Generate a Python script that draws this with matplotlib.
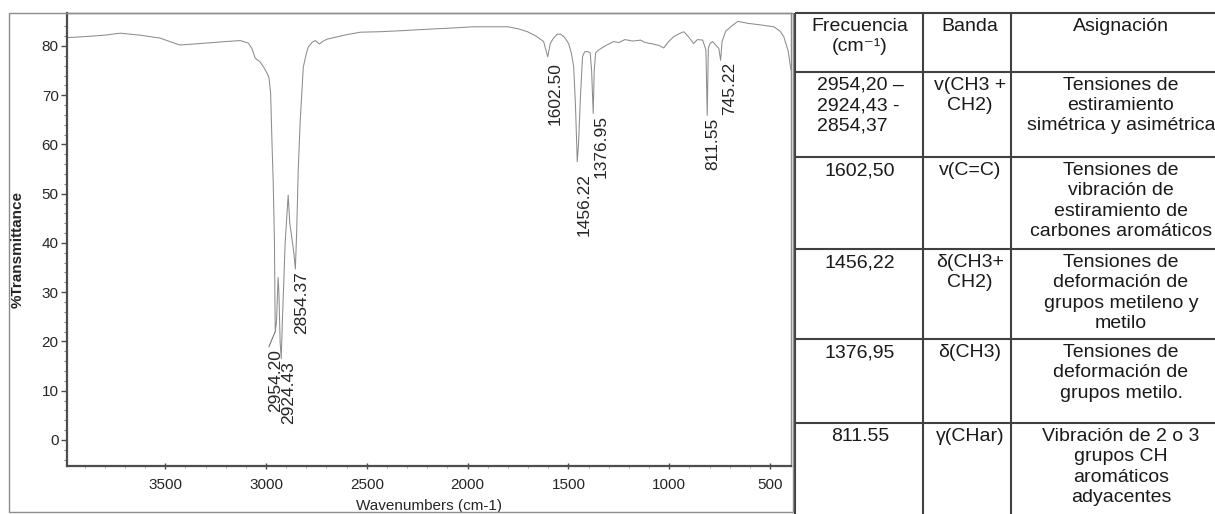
import numpy as np
import matplotlib
matplotlib.use("Agg")
import matplotlib.pyplot as plt
from matplotlib.patches import Rectangle

# IR spectrum trace: wavenumber (cm-1) and %T
WN = [3988, 3900, 3800, 3723, 3624, 3525, 3470, 3426, 3326, 3200, 3128, 3088,
      3070, 3053, 3030, 3013, 2995, 2985, 2977, 2970, 2964, 2958, 2956, 2954.2,
      2948, 2940, 2936, 2930, 2924.4, 2918, 2905, 2890, 2882, 2875, 2862, 2854.4,
      2848, 2840, 2830, 2815, 2800, 2790, 2770, 2755, 2735, 2720, 2696, 2600,
      2532, 2433, 2333, 2200, 2100, 1971, 1802, 1750, 1703, 1660, 1623, 1602.5,
      1590, 1574, 1555, 1539, 1520, 1499, 1485, 1474, 1465, 1456.2, 1450, 1440,
      1430, 1420, 1405, 1392, 1385, 1377, 1372, 1365, 1350, 1310, 1276, 1250,
      1220, 1180, 1142, 1120, 1080, 1050, 1027, 1005, 978, 950, 928, 905, 879,
      860, 834, 818, 811.5, 806, 798, 785, 770, 754, 745.2, 738, 720, 695, 660,
      610, 550, 481, 450, 432, 410, 396]
TR = [81.7, 81.9, 82.2, 82.6, 82.2, 81.6, 80.8, 80.2, 80.5, 80.9, 81.1, 80.6,
      79.5, 77.5, 76.8, 75.8, 74.5, 73.5, 70.4, 60, 52, 40, 30, 22,
      24, 33, 30, 20, 16.5, 25, 40, 49.7, 44, 42, 38, 34.7,
      42, 55, 65, 75.7, 78.5, 79.8, 80.8, 81.1, 80.4, 80.9, 81.4, 82.3,
      82.8, 82.9, 83.1, 83.4, 83.6, 83.9, 83.9, 83.5, 82.9, 82.0, 80.9, 77.8,
      80.5, 81.6, 82.4, 82.4, 81.8, 80.5, 78.5, 75.8, 68, 56.5, 60, 70,
      77.8, 78.8, 78.9, 78.6, 75, 66.3, 75, 78.6, 79.2, 80.2, 80.9, 80.7,
      81.3, 81.0, 81.2, 80.7, 80.4, 80.1, 79.6, 80.8, 81.9, 82.5, 82.9, 81.9, 80.5,
      81.3, 81.2, 79.2, 65.9, 79.5, 80.5, 80.9, 80.2, 79.5, 77.1, 80.9, 83, 83.9, 85,
      84.6, 84.3, 83.9, 83, 81.9, 79, 75.1]

# labelled peaks: (wavenumber, %T at the minimum, label)
PEAK_WN = [2954.2, 2924.4, 2854.4, 1602.5, 1456.2, 1377, 811.5, 745.2]
PEAK_T = [22, 16.5, 34.7, 77.8, 56.5, 66.3, 65.9, 77.1]
PEAK_LBL = ["2954.20", "2924.43", "2854.37", "1602.50", "1456.22", "1376.95",
            "811.55", "745.22"]
# label offset from the minimum (pixels)
PEAK_OFF = [(0, -18), (7, -3), (6, -2), (7, -5), (7, -11), (8, -2), (6, -2), (9, -2)]

# table
FREQ = ["Frecuencia\n(cm⁻¹)", "2954,20 –\n2924,43 -\n2854,37",
        "1602,50", "1456,22", "1376,95", "811.55"]
BANDA = ["Banda", "v(CH3 +\nCH2)", "v(C=C)", "δ(CH3+\nCH2)", "δ(CH3)", "γ(CHar)"]
ASIGN = ["Asignación",
         "Tensiones de\nestiramiento\nsimétrica y asimétrica",
         "Tensiones de\nvibración de\nestiramiento de\ncarbones aromáticos",
         "Tensiones de\ndeformación de\ngrupos metileno y\nmetilo",
         "Tensiones de\ndeformación de\ngrupos metilo.",
         "Vibración de 2 o 3\ngrupos CH\naromáticos\nadyacentes"]

NARROW = ["Liberation Sans Narrow", "Liberation Sans", "DejaVu Sans"]
plt.rcParams["font.family"] = ["Liberation Sans", "DejaVu Sans"]

W, H = 1215, 514
fig = plt.figure(figsize=(W / 100, H / 100), dpi=100)

# outer frame of the scanned spectrum
fig.patches.append(Rectangle((9 / W, 2 / H), 784 / W, 499 / H, transform=fig.transFigure,
                             fill=False, ec="0.55", lw=1.0))

ax = fig.add_axes([67 / W, 48 / H, 724 / W, 453 / H])
ax.plot(WN, TR, color="0.55", lw=0.75)
ax.set_xlim(3987, 396)
ax.set_ylim(-5.3, 86.7)
ax.set_xticks([3500, 3000, 2500, 2000, 1500, 1000, 500])
ax.set_yticks([0, 10, 20, 30, 40, 50, 60, 70, 80])
ax.set_xticks(np.arange(500, 4000, 100), minor=True)
ax.set_yticks(np.arange(-4, 86, 2), minor=True)
ax.tick_params(axis="y", which="major", direction="out", length=4, width=1, color="0.3", pad=2)
ax.tick_params(axis="y", which="minor", direction="out", length=2, width=0.6, color="0.4")
ax.tick_params(axis="x", which="major", direction="inout", length=5, width=1, color="0.3", pad=6)
ax.tick_params(axis="x", which="minor", direction="out", length=1.5, width=0.5, color="0.5")
for lab in ax.get_xticklabels() + ax.get_yticklabels():
    lab.set_family(NARROW)
    lab.set_fontsize(11)
    lab.set_color("0.15")
for s in ["left", "bottom"]:
    ax.spines[s].set_color("0.3")
    ax.spines[s].set_linewidth(1.6)
for s in ["top", "right"]:
    ax.spines[s].set_color("0.55")
    ax.spines[s].set_linewidth(1.0)
ax.set_xlabel("Wavenumbers (cm-1)", family=NARROW, fontsize=11, color="0.15")
ax.xaxis.set_label_coords(0.5, -0.073)
ax.set_ylabel("%Transmittance", family=NARROW, fontsize=11, color="0.15", fontweight="bold")
ax.yaxis.set_label_coords(-0.058, 0.477)

for wn, t, lbl, (dx, dy) in zip(PEAK_WN, PEAK_T, PEAK_LBL, PEAK_OFF):
    kw = {}
    if lbl == "2954.20":
        kw["arrowprops"] = dict(arrowstyle="-", color="0.4", lw=0.7, shrinkA=0, shrinkB=0,
                                relpos=(0, 1))
    ax.annotate(lbl, xy=(wn, t), xytext=(dx, dy), textcoords="offset pixels",
                rotation=90, ha="center", va="top", fontsize=12.5, color="0.15", **kw)

# table on a pixel-coordinate overlay
tab = fig.add_axes([0, 0, 1, 1])
tab.set_xlim(0, W)
tab.set_ylim(H, 0)
tab.axis("off")
cols = [795, 923, 1011, 1232]
rows = [13, 72, 157, 249, 339, 423, 530]
lc = "0.25"
tab.hlines(rows[:-1], cols[0], cols[-1], color=lc, lw=1.5)
tab.vlines(cols, rows[0], rows[-1], color=lc, lw=1.5)
centers = [860, 970, 1121]
for i in range(len(FREQ)):
    ytop = rows[i] + 5
    for c, txt in zip(centers, (FREQ[i], BANDA[i], ASIGN[i])):
        tab.text(c, ytop, txt, ha="center", va="top",
                 multialignment="left" if txt.startswith("2954") else "center",
                 fontsize=14, color="0.1", linespacing=1.25)

fig.savefig("out.png", dpi=100)
